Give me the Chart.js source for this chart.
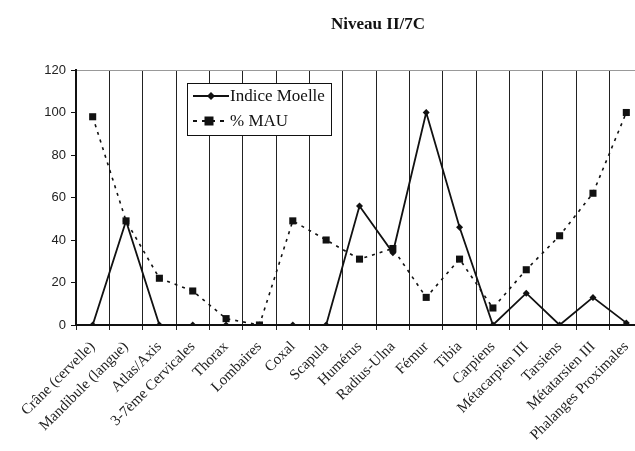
<!DOCTYPE html>
<html>
<head>
<meta charset="utf-8">
<script src="https://cdn.jsdelivr.net/npm/chart.js@4.4.0/dist/chart.umd.min.js"></script>
<style>
  html, body { margin: 0; padding: 0; background: #fff; overflow: hidden; }
  #wrap { width: 635px; height: 451px; overflow: hidden; }
</style>
</head>
<body>
<div id="wrap"><canvas id="chart" width="650" height="451"></canvas></div>
<script>
var categories = ['Crâne (cervelle)', 'Mandibule (langue)', 'Atlas/Axis', '3-7ème Cervicales', 'Thorax', 'Lombaires',
    'Coxal', 'Scapula', 'Humérus', 'Radius-Ulna', 'Fémur', 'Tibia', 'Carpiens', 'Métacarpien III',
    'Tarsiens', 'Métatarsien III', 'Phalanges Proximales'];
var indiceMoelle = [0, 49, 0, 0, 0, 0, 0, 0, 56, 34, 100, 46, 0, 15, 0, 13, 1];
var pctMAU = [98, 49, 22, 16, 3, 0, 49, 40, 31, 36, 13, 31, 8, 26, 42, 62, 100];
var yTicks = [0, 20, 40, 60, 80, 100, 120];

var serif = '"Liberation Serif", "DejaVu Serif", serif';

// title + legend box drawn by hand
var extras = {
    id: 'extras',
    afterDraw: function (chart) {
        var ctx = chart.ctx;
        ctx.save();
        ctx.fillStyle = '#111';
        ctx.font = 'bold 17px ' + serif;
        ctx.textAlign = 'center';
        ctx.textBaseline = 'middle';
        ctx.fillText('Niveau II/7C', 378, 25);

        // legend
        var x = 187, y = 83, w = 144, h = 52;
        ctx.fillStyle = '#fff';
        ctx.fillRect(x, y, w, h);
        ctx.strokeStyle = '#111';
        ctx.lineWidth = 1;
        ctx.strokeRect(x + 0.5, y + 0.5, w, h);

        ctx.lineWidth = 1.8;
        ctx.beginPath();
        ctx.moveTo(x + 6, y + 13);
        ctx.lineTo(x + 42, y + 13);
        ctx.stroke();
        ctx.fillStyle = '#111';
        ctx.beginPath();
        ctx.moveTo(x + 24, y + 9);
        ctx.lineTo(x + 28, y + 13);
        ctx.lineTo(x + 24, y + 17);
        ctx.lineTo(x + 20, y + 13);
        ctx.closePath();
        ctx.fill();

        ctx.setLineDash([4, 5]);
        ctx.beginPath();
        ctx.moveTo(x + 6, y + 38);
        ctx.lineTo(x + 38, y + 38);
        ctx.stroke();
        ctx.setLineDash([]);
        ctx.fillRect(x + 17.5, y + 33.5, 9, 9);

        ctx.font = '17px ' + serif;
        ctx.textAlign = 'left';
        ctx.fillText('Indice Moelle', x + 43, y + 14);
        ctx.fillText('% MAU', x + 43, y + 39);
        ctx.restore();
    }
};

new Chart(document.getElementById('chart'), {
    type: 'line',
    data: {
        labels: categories,
        datasets: [
            {
                label: 'Indice Moelle',
                data: indiceMoelle,
                borderColor: '#111',
                backgroundColor: '#111',
                borderWidth: 1.8,
                pointStyle: 'rectRot',
                pointRadius: 3.5,
                pointBorderWidth: 0,
                tension: 0
            },
            {
                label: '% MAU',
                data: pctMAU,
                borderColor: '#111',
                backgroundColor: '#111',
                borderWidth: 1.6,
                borderDash: [3, 5],
                pointStyle: 'rect',
                pointRadius: 5,
                pointBorderWidth: 0,
                tension: 0
            }
        ]
    },
    options: {
        responsive: false,
        animation: false,
        layout: { padding: { top: 70, right: 7, left: 0, bottom: 0 } },
        plugins: {
            legend: { display: false },
            tooltip: { enabled: false },
            title: { display: false }
        },
        scales: {
            x: {
                offset: true,
                grid: {
                    offset: true,
                    color: '#222',
                    lineWidth: 1,
                    tickLength: 5,
                    tickColor: '#222'
                },
                border: { color: '#111', width: 2 },
                ticks: {
                    autoSkip: false,
                    minRotation: 45,
                    maxRotation: 45,
                    color: '#222',
                    font: { family: serif, size: 15 },
                    padding: 8
                },
                afterFit: function (scale) { scale.height = 126; }
            },
            y: {
                min: 0,
                max: 120,
                afterBuildTicks: function (scale) {
                    scale.ticks = yTicks.map(function (v) { return { value: v }; });
                },
                grid: {
                    color: function (c) { return c.tick && c.tick.value === 120 ? '#999' : 'rgba(0,0,0,0)'; },
                    tickColor: '#111',
                    tickLength: 5
                },
                border: { color: '#111', width: 2 },
                ticks: {
                    color: '#222',
                    font: { family: '"Liberation Sans", Arial, sans-serif', size: 13 },
                    padding: 5
                },
                afterFit: function (scale) { scale.width = 76; }
            }
        }
    },
    plugins: [extras]
});
</script>
</body>
</html>
